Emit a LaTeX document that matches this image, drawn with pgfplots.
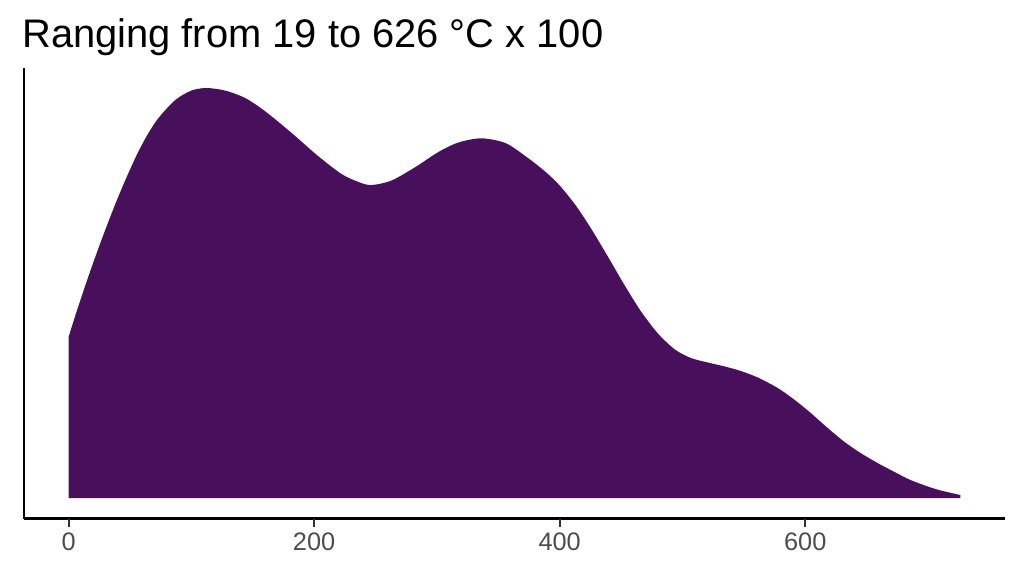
\documentclass[border=0pt]{standalone}
\usepackage{pgfplots}
\pgfplotsset{compat=1.18}
\usepackage{fontspec}
\setmainfont{Liberation Sans}

\definecolor{densfill}{RGB}{72,15,93}
\definecolor{ticktxt}{RGB}{77,77,77}
\definecolor{tickline}{RGB}{51,51,51}

\begin{document}
\begin{tikzpicture}
% page box: 1024x576 px at 0.75pt per px
\path (-18pt,-43.1pt) rectangle (750pt,388.9pt);
\begin{axis}[
  at={(0,0)}, anchor=south west,
  scale only axis, width=735.75pt, height=338.25pt,
  xmin=-36.3, xmax=762.7, ymin=-20.5, ymax=430.5,
  axis x line*=bottom, axis y line*=left,
  axis line style={line width=1.6pt, black},
  xtick={0,200,400,600}, ytick=\empty,
  tick align=outside, major tick length=6pt,
  tick style={line width=1.5pt, tickline},
  tick label style={font=\fontsize{19}{23}\selectfont, text=ticktxt},
  /pgf/number format/assume math mode=true,
  xticklabel style={yshift=-1pt},
  clip=false,
]
\addplot[fill=densfill, draw=none, smooth, tension=0.5] coordinates {
(0,161) (6.1,184.8) (12.6,208.8) (19.1,231.9) (26.4,256.7) (32.9,277.8)
(39.4,298) (46.7,319.2) (55.7,343.5) (64.6,364) (73.6,380.6) (87.4,398.5)
(100.4,407.6) (112.6,410) (128.0,407.3) (144.3,399.7) (160.6,386.3)
(181.7,365) (203.7,341.5) (222.4,324) (236.2,316) (246.7,313) (263.0,317.5)
(282.5,331) (301.2,346) (317.5,355.5) (336.2,359.7) (355.7,355) (372.0,342)
(386.6,328.1) (398.8,314.1) (412.6,293.4) (425.6,269.4) (439.4,241.1)
(453.3,211.9) (466.3,186.5) (480.1,164.4) (494.0,148.4) (507.0,140)
(520.7,135.5) (534.6,131.5) (547.6,127) (561.4,120.5) (577.6,110)
(591.5,98) (604.5,85) (618.3,70) (632.1,56) (645.1,45) (658.9,35)
(672.8,26) (685.8,18) (706.1,9) (726.4,3)
} \closedcycle;
% tick positions on the axis line, drawn after the axis
\coordinate (tA) at (axis cs:0,-20.5);
\coordinate (tB) at (axis cs:200,-20.5);
\coordinate (tC) at (axis cs:400,-20.5);
\coordinate (tD) at (axis cs:600,-20.5);
\end{axis}
\foreach \t in {tA,tB,tC,tD}
  \draw[line width=1.5pt, color=tickline] (\t) -- ++(0,-6.5pt);
\node[anchor=base west, inner sep=0pt, font=\fontsize{29.9}{35}\selectfont] at (-1.5pt,352.9pt) {Ranging from 19 to 626 °C x 100};
\end{tikzpicture}
\end{document}
